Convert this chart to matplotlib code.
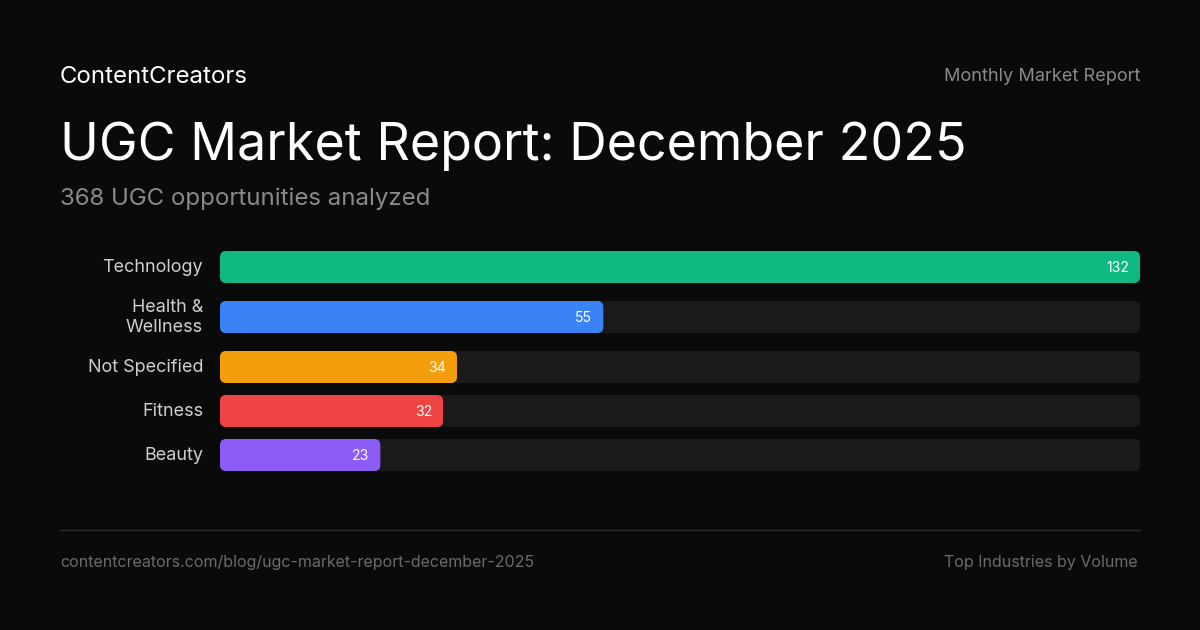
"""UGC market report card: top industries by volume, horizontal rounded bars."""
import matplotlib
matplotlib.use('Agg')
import matplotlib.pyplot as plt
from matplotlib.patches import FancyBboxPatch

categories = ['Technology', 'Health &\nWellness', 'Not Specified', 'Fitness', 'Beauty']
values = [132, 55, 34, 32, 23]
colors = ['#10b981', '#3b82f6', '#f59e0b', '#ef4444', '#8b5cf6']

brand = 'ContentCreators'
kicker = 'Monthly Market Report'
title = 'UGC Market Report: December 2025'
subtitle = '368 UGC opportunities analyzed'
footer_left = 'contentcreators.com/blog/ugc-market-report-december-2025'
footer_right = 'Top Industries by Volume'

BG = '#0a0a0a'
TRACK = '#1a1a1a'
W, H = 1200, 630
PT = 0.72  # px -> pt at dpi 100

plt.rcParams['font.family'] = ['Inter', 'DejaVu Sans']

fig = plt.figure(figsize=(W / 100, H / 100), dpi=100, facecolor=BG)
bg = fig.add_axes([0, 0, 1, 1])
bg.set_xlim(0, W)
bg.set_ylim(H, 0)
bg.axis('off')

# header
bg.text(60, 83, brand, color='#ffffff', fontsize=24 * PT, va='baseline')
bg.text(1140, 81, kicker, color='#8a8a8a', fontsize=18.2 * PT, va='baseline', ha='right')
bg.text(60, 160, title, color='#ffffff', fontsize=52 * PT, va='baseline')
bg.text(60, 205, subtitle, color='#8a8a8a', fontsize=24 * PT, va='baseline')

# row layout: single-line rows are bar height, two-line rows taller
bar_h, gap, top0 = 32, 12, 251
rows = []
top = top0
for cat in categories:
    rh = bar_h if '\n' not in cat else 44
    rows.append(top + rh / 2)
    top += rh + gap
bottom = top - gap

x0, x1 = 220, 1140
ax = fig.add_axes([x0 / W, 1 - bottom / H, (x1 - x0) / W, (bottom - top0) / H])
vmax = max(values)
ax.set_xlim(0, vmax)
ax.set_ylim(bottom, top0)
ax.axis('off')

radius_px = 6
rx = radius_px * vmax / (x1 - x0)
aspect = (x1 - x0) / vmax


def rbar(x, yc, w, color):
    ax.add_patch(FancyBboxPatch((x, yc - bar_h / 2), w, bar_h,
                                boxstyle=f'round,pad=0,rounding_size={rx}',
                                mutation_aspect=aspect, fc=color, ec='none'))


for cat, v, c, yc in zip(categories, values, colors, rows):
    rbar(0, yc, vmax, TRACK)
    rbar(0, yc, v, c)
    ax.annotate(str(v), xy=(v, yc + 1), xytext=(-11, 0), textcoords='offset pixels',
                ha='right', va='center', color='#ffffff', fontsize=14 * PT)
    bg.text(203, yc + 0.5, cat, ha='right', va='center', color='#cfcfcf',
            fontsize=18 * PT, linespacing=1.27, multialignment='right')

# footer
bg.plot([60, 1140], [530, 530], color='#2e2e2e', lw=1)
bg.text(60, 567, footer_left, color='#6b6b6b', fontsize=16 * PT, va='baseline')
bg.text(1138, 567, footer_right, color='#6b6b6b', fontsize=16 * PT, va='baseline', ha='right')

fig.savefig('out.png', dpi=100, facecolor=BG)
